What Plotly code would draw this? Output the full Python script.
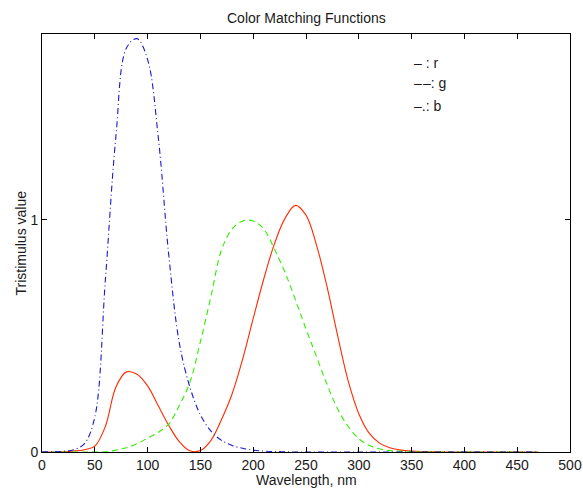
import plotly.graph_objects as go

wavelength = list(range(0, 480, 10))

r_vals = [0, 0, 0.001, 0.004, 0.01, 0.025, 0.11, 0.28, 0.345, 0.335,
          0.285, 0.2, 0.115, 0.045, 0.005, 0.006, 0.05, 0.14, 0.25, 0.40,
          0.575, 0.745, 0.895, 1.005, 1.062, 1.02, 0.89, 0.71, 0.5, 0.305,
          0.165, 0.08, 0.037, 0.017, 0.008, 0.004, 0.002, 0.001, 0, 0,
          0, 0, 0, 0, 0, 0, 0, 0]

g_vals = [0, 0, 0, 0, 0, 0, 0.001, 0.008, 0.018, 0.036,
          0.06, 0.085, 0.12, 0.2, 0.30, 0.475, 0.67, 0.87, 0.96, 0.995,
          0.995, 0.96, 0.875, 0.775, 0.655, 0.53, 0.41, 0.29, 0.185, 0.11,
          0.057, 0.028, 0.013, 0.006, 0.003, 0.001, 0, 0, 0, 0,
          0, 0, 0, 0, 0, 0, 0, 0]

b_vals = [0, 0.001, 0.003, 0.01, 0.035, 0.15, 0.74, 1.36, 1.74, 1.78,
          1.69, 1.36, 0.85, 0.47, 0.28, 0.16, 0.09, 0.05, 0.028, 0.016,
          0.008, 0.004, 0.002, 0.001, 0, 0, 0, 0, 0, 0,
          0, 0, 0, 0, 0, 0, 0, 0, 0, 0,
          0, 0, 0, 0, 0, 0, 0, 0]

x_ticks = list(range(0, 550, 50))
y_ticks = [0, 1]
legend_lines = ["\u2013 : r", "\u2013\u200a\u2013: g", "\u2013.: b"]
legend_y = [1.673, 1.587, 1.489]

FONT = "Liberation Sans, Arial, sans-serif"
TXT = "#1a1a1a"
FS = 14

fig = go.Figure()
fig.add_trace(go.Scatter(x=wavelength, y=r_vals, mode="lines",
                         line=dict(color="#ff2a00", width=1.1, shape="spline"),
                         showlegend=False))
fig.add_trace(go.Scatter(x=wavelength, y=g_vals, mode="lines",
                         line=dict(color="#33ee00", width=1.1, shape="spline", dash="6px,4px"),
                         showlegend=False))
fig.add_trace(go.Scatter(x=wavelength, y=b_vals, mode="lines",
                         line=dict(color="#1a1acc", width=1.1, shape="spline", dash="6px,3px,1px,3px"),
                         showlegend=False))

for txt, yy in zip(legend_lines, legend_y):
    fig.add_annotation(x=350, y=yy, xref="x", yref="y", text=txt, showarrow=False,
                       xanchor="left", yanchor="middle",
                       font=dict(family=FONT, size=FS, color=TXT))

fig.add_annotation(x=0.5, y=0, xref="paper", yref="paper", yshift=-28.3,
                   text="Wavelength, nm", showarrow=False, xanchor="center", yanchor="middle",
                   font=dict(family=FONT, size=FS, color=TXT))
fig.add_annotation(x=0, y=0.5, xref="paper", yref="paper", xshift=-21.5,
                   text="Tristimulus value", showarrow=False, textangle=-90,
                   xanchor="center", yanchor="middle",
                   font=dict(family=FONT, size=FS, color=TXT))
fig.add_annotation(x=0.5, y=1, xref="paper", yref="paper", yshift=16.3,
                   text="Color Matching Functions", showarrow=False,
                   xanchor="center", yanchor="middle",
                   font=dict(family=FONT, size=FS, color=TXT))

fig.update_layout(
    width=583, height=491,
    margin=dict(l=41.5, r=13, t=34.3, b=39.3, autoexpand=False),
    paper_bgcolor="white", plot_bgcolor="white",
    font=dict(family=FONT, size=FS, color=TXT),
)

fig.update_xaxes(range=[0, 500], tickvals=x_ticks, ticks="inside", ticklen=5,
                 tickcolor="black", showline=True, linecolor="black", linewidth=1,
                 mirror="ticks", showgrid=False, zeroline=False, automargin=False,
                 tickfont=dict(family=FONT, size=FS, color=TXT))
fig.update_yaxes(range=[0, 1.8], tickvals=y_ticks, ticks="inside", ticklen=5,
                 tickcolor="black", showline=True, linecolor="black", linewidth=1,
                 mirror="ticks", showgrid=False, zeroline=False, automargin=False,
                 tickfont=dict(family=FONT, size=FS, color=TXT))

fig.write_html("out.html",
               config={"displayModeBar": False},
               post_script="document.body.style.margin='0';document.body.style.overflow='hidden';")
